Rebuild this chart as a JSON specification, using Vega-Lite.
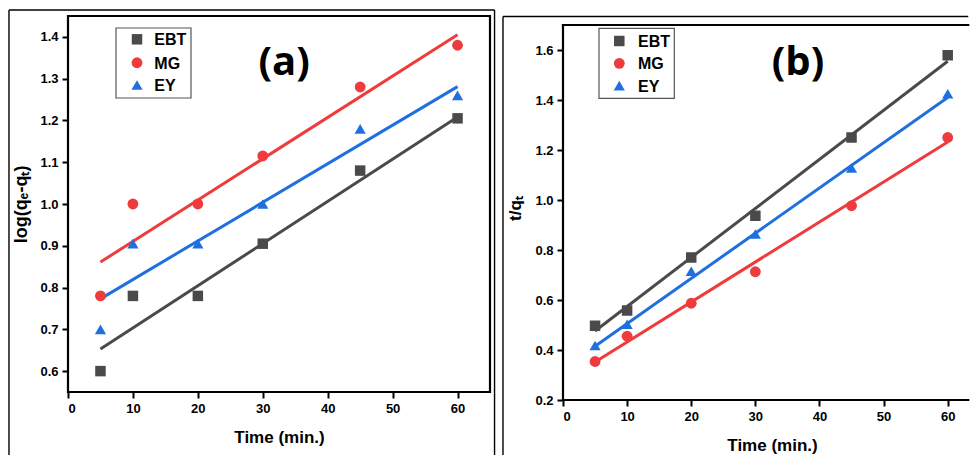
{
  "$schema": "https://vega.github.io/schema/vega-lite/v6.json",
  "background": "white",
  "padding": {"left": 8, "top": 9, "right": 0, "bottom": 0},
  "spacing": 73,
  "bounds": "flush",
  "datasets": {
    "a_pts": [
      {"series": "EBT", "t": 5, "v": 0.60}, {"series": "EBT", "t": 10, "v": 0.78}, {"series": "EBT", "t": 20, "v": 0.78},
      {"series": "EBT", "t": 30, "v": 0.905}, {"series": "EBT", "t": 45, "v": 1.08}, {"series": "EBT", "t": 60, "v": 1.205},
      {"series": "MG", "t": 5, "v": 0.78}, {"series": "MG", "t": 10, "v": 1.0}, {"series": "MG", "t": 20, "v": 1.0},
      {"series": "MG", "t": 30, "v": 1.115}, {"series": "MG", "t": 45, "v": 1.28}, {"series": "MG", "t": 60, "v": 1.38},
      {"series": "EY", "t": 5, "v": 0.70}, {"series": "EY", "t": 10, "v": 0.905}, {"series": "EY", "t": 20, "v": 0.905},
      {"series": "EY", "t": 30, "v": 1.0}, {"series": "EY", "t": 45, "v": 1.18}, {"series": "EY", "t": 60, "v": 1.26}
    ],
    "a_fit": [
      {"series": "EBT", "t": 5, "v": 0.653}, {"series": "EBT", "t": 60, "v": 1.208},
      {"series": "MG", "t": 5, "v": 0.861}, {"series": "MG", "t": 60, "v": 1.405},
      {"series": "EY", "t": 5, "v": 0.773}, {"series": "EY", "t": 60, "v": 1.281}
    ],
    "b_pts": [
      {"series": "EBT", "t": 5, "v": 0.497}, {"series": "EBT", "t": 10, "v": 0.558}, {"series": "EBT", "t": 20, "v": 0.77},
      {"series": "EBT", "t": 30, "v": 0.937}, {"series": "EBT", "t": 45, "v": 1.25}, {"series": "EBT", "t": 60, "v": 1.579},
      {"series": "MG", "t": 5, "v": 0.354}, {"series": "MG", "t": 10, "v": 0.455}, {"series": "MG", "t": 20, "v": 0.587},
      {"series": "MG", "t": 30, "v": 0.713}, {"series": "MG", "t": 45, "v": 0.977}, {"series": "MG", "t": 60, "v": 1.25},
      {"series": "EY", "t": 5, "v": 0.418}, {"series": "EY", "t": 10, "v": 0.503}, {"series": "EY", "t": 20, "v": 0.715},
      {"series": "EY", "t": 30, "v": 0.864}, {"series": "EY", "t": 45, "v": 1.128}, {"series": "EY", "t": 60, "v": 1.425}
    ],
    "b_fit": [
      {"series": "EBT", "t": 5, "v": 0.476}, {"series": "EBT", "t": 60, "v": 1.555},
      {"series": "MG", "t": 5, "v": 0.352}, {"series": "MG", "t": 60, "v": 1.232},
      {"series": "EY", "t": 5, "v": 0.415}, {"series": "EY", "t": 60, "v": 1.41}
    ],
    "items": [{"series": "EBT"}, {"series": "MG"}, {"series": "EY"}],
    "one": [{}]
  },
  "hconcat": [
    {
      "width": 422,
      "height": 376,
      "layer": [
        {
          "data": {"name": "one"},
          "mark": {"type": "rect", "fill": null, "stroke": "black", "strokeWidth": 2.2},
          "encoding": {
            "x": {"datum": 0, "type": "quantitative", "scale": {"domain": [0, 65], "nice": false, "zero": false}},
            "x2": {"datum": 65},
            "y": {"datum": 0.55, "type": "quantitative", "scale": {"domain": [0.55, 1.45], "nice": false, "zero": false}},
            "y2": {"datum": 1.45}
          }
        },
        {
          "data": {"name": "one"},
          "mark": {"type": "rule", "stroke": "black", "strokeWidth": 1.4},
          "encoding": {"x": {"datum": -9.09, "type": "quantitative"}, "y": {"datum": 0.3992, "type": "quantitative"}, "y2": {"datum": 1.4644}}
        },
        {
          "data": {"name": "one"},
          "mark": {"type": "rule", "stroke": "black", "strokeWidth": 1.4},
          "encoding": {"x": {"datum": 65.7, "type": "quantitative"}, "y": {"datum": 0.3992, "type": "quantitative"}, "y2": {"datum": 1.4644}}
        },
        {
          "data": {"name": "one"},
          "mark": {"type": "rule", "stroke": "black", "strokeWidth": 1.4},
          "encoding": {"y": {"datum": 1.4644, "type": "quantitative"}, "x": {"datum": -9.09, "type": "quantitative"}, "x2": {"datum": 65.7}}
        },
        {
          "data": {"name": "a_fit"},
          "mark": {"type": "line", "strokeWidth": 3},
          "encoding": {
            "x": {"field": "t", "type": "quantitative"},
            "y": {"field": "v", "type": "quantitative"},
            "detail": {"field": "series", "type": "nominal"},
            "stroke": {"field": "series", "type": "nominal", "scale": {"domain": ["EBT", "MG", "EY"], "range": ["#4a4a4a", "#ef3b3b", "#1f6fe0"]}, "legend": null}
          }
        },
        {
          "data": {"name": "a_pts"},
          "mark": {"type": "point", "filled": true, "opacity": 1},
          "encoding": {
            "x": {"field": "t", "type": "quantitative", "axis": {
              "title": "Time (min.)",
              "values": [0, 5, 10, 15, 20, 25, 30, 35, 40, 45, 50, 55, 60, 65],
              "labelExpr": "datum.value % 10 === 0 ? datum.label : ''",
              "tickSize": {"condition": {"test": "datum.value % 10 === 0", "value": 6}, "value": 3},
              "titlePadding": 14
            }},
            "y": {"field": "v", "type": "quantitative", "axis": {
              "title": "log(qₑ-qₜ)",
              "titleFontSize": 18,
              "values": [0.6, 0.65, 0.7, 0.75, 0.8, 0.85, 0.9, 0.95, 1.0, 1.05, 1.1, 1.15, 1.2, 1.25, 1.3, 1.35, 1.4],
              "labelExpr": "round(datum.value*100) % 10 === 0 ? format(datum.value, '.1f') : ''",
              "tickSize": {"condition": {"test": "round(datum.value*100) % 10 === 0", "value": 6}, "value": 3},
              "titlePadding": 9
            }},
            "color": {"field": "series", "type": "nominal", "scale": {"domain": ["EBT", "MG", "EY"], "range": ["#4a4a4a", "#ef3b3b", "#1f6fe0"]}, "legend": null},
            "shape": {"field": "series", "type": "nominal", "scale": {"domain": ["EBT", "MG", "EY"], "range": ["square", "circle", "triangle-up"]}, "legend": null},
            "size": {"field": "series", "type": "nominal", "scale": {"domain": ["EBT", "MG", "EY"], "range": [110, 125, 220]}, "legend": null}
          }
        },
        {
          "data": {"name": "one"},
          "mark": {"type": "rect", "fill": "white", "stroke": "#555", "strokeWidth": 1.2},
          "encoding": {"x": {"datum": 7.393, "type": "quantitative"}, "x2": {"datum": 18.945}, "y": {"datum": 1.4213, "type": "quantitative"}, "y2": {"datum": 1.2537}}
        },
        {
          "data": {"name": "items"},
          "transform": [{"filter": "datum.series === 'EBT'"}],
          "layer": [
            {"mark": {"type": "point", "filled": true, "opacity": 1},
             "encoding": {"x": {"datum": 10.628, "type": "quantitative"}, "y": {"datum": 1.3942, "type": "quantitative"}, "color": {"field": "series", "type": "nominal", "legend": null}, "shape": {"field": "series", "type": "nominal", "legend": null}, "size": {"field": "series", "type": "nominal", "legend": null}}},
            {"mark": {"type": "text", "align": "left", "baseline": "middle", "dy": 1, "font": "Liberation Sans", "fontWeight": "bold", "fontSize": 16, "color": "black"},
             "encoding": {"x": {"datum": 13.3, "type": "quantitative"}, "y": {"datum": 1.3942, "type": "quantitative"}, "text": {"field": "series"}}}
          ]
        },
        {
          "data": {"name": "items"},
          "transform": [{"filter": "datum.series === 'MG'"}],
          "layer": [
            {"mark": {"type": "point", "filled": true, "opacity": 1},
             "encoding": {"x": {"datum": 10.628, "type": "quantitative"}, "y": {"datum": 1.3382, "type": "quantitative"}, "color": {"field": "series", "type": "nominal", "legend": null}, "shape": {"field": "series", "type": "nominal", "legend": null}, "size": {"field": "series", "type": "nominal", "legend": null}}},
            {"mark": {"type": "text", "align": "left", "baseline": "middle", "dy": 1, "font": "Liberation Sans", "fontWeight": "bold", "fontSize": 16, "color": "black"},
             "encoding": {"x": {"datum": 13.3, "type": "quantitative"}, "y": {"datum": 1.3382, "type": "quantitative"}, "text": {"field": "series"}}}
          ]
        },
        {
          "data": {"name": "items"},
          "transform": [{"filter": "datum.series === 'EY'"}],
          "layer": [
            {"mark": {"type": "point", "filled": true, "opacity": 1},
             "encoding": {"x": {"datum": 10.628, "type": "quantitative"}, "y": {"datum": 1.2848, "type": "quantitative"}, "color": {"field": "series", "type": "nominal", "legend": null}, "shape": {"field": "series", "type": "nominal", "legend": null}, "size": {"field": "series", "type": "nominal", "legend": null}}},
            {"mark": {"type": "text", "align": "left", "baseline": "middle", "dy": 1, "font": "Liberation Sans", "fontWeight": "bold", "fontSize": 16, "color": "black"},
             "encoding": {"x": {"datum": 13.3, "type": "quantitative"}, "y": {"datum": 1.2848, "type": "quantitative"}, "text": {"field": "series"}}}
          ]
        },
        {
          "data": {"name": "one"},
          "mark": {"type": "text", "text": "(a)", "font": "Open Sans", "fontWeight": "bold", "fontSize": 40, "baseline": "middle", "align": "center", "color": "black"},
          "encoding": {"x": {"datum": 33.3, "type": "quantitative"}, "y": {"datum": 1.3375, "type": "quantitative"}}
        }
      ]
    },
    {
      "width": 406,
      "height": 384,
      "layer": [
        {
          "data": {"name": "one"},
          "mark": {"type": "rule", "stroke": "black", "strokeWidth": 2.2, "strokeCap": "square"},
          "encoding": {
            "x": {"datum": 0, "type": "quantitative", "scale": {"domain": [0, 63.32], "nice": false, "zero": false}},
            "y": {"datum": 0.2, "type": "quantitative", "scale": {"domain": [0.2, 1.736], "nice": false, "zero": false}},
            "y2": {"datum": 1.7}
          }
        },
        {
          "data": {"name": "one"},
          "mark": {"type": "rule", "stroke": "black", "strokeWidth": 2.2, "strokeCap": "square"},
          "encoding": {"y": {"datum": 1.7, "type": "quantitative"}, "x": {"datum": 0, "type": "quantitative"}, "x2": {"datum": 63.2}}
        },
        {
          "data": {"name": "one"},
          "mark": {"type": "rule", "stroke": "black", "strokeWidth": 2.2, "strokeCap": "square"},
          "encoding": {"y": {"datum": 0.2, "type": "quantitative"}, "x": {"datum": 0, "type": "quantitative"}, "x2": {"datum": 63.2}}
        },
        {
          "data": {"name": "one"},
          "mark": {"type": "rule", "stroke": "black", "strokeWidth": 1.4},
          "encoding": {"x": {"datum": -9.36, "type": "quantitative"}, "y": {"datum": -0.02, "type": "quantitative"}, "y2": {"datum": 1.734}}
        },
        {
          "data": {"name": "one"},
          "mark": {"type": "rule", "stroke": "black", "strokeWidth": 1.4},
          "encoding": {"y": {"datum": 1.734, "type": "quantitative"}, "x": {"datum": -9.36, "type": "quantitative"}, "x2": {"datum": 63.2}}
        },
        {
          "data": {"name": "b_fit"},
          "mark": {"type": "line", "strokeWidth": 3},
          "encoding": {
            "x": {"field": "t", "type": "quantitative"},
            "y": {"field": "v", "type": "quantitative"},
            "detail": {"field": "series", "type": "nominal"},
            "stroke": {"field": "series", "type": "nominal", "scale": {"domain": ["EBT", "MG", "EY"], "range": ["#4a4a4a", "#ef3b3b", "#1f6fe0"]}, "legend": null}
          }
        },
        {
          "data": {"name": "b_pts"},
          "mark": {"type": "point", "filled": true, "opacity": 1},
          "encoding": {
            "x": {"field": "t", "type": "quantitative", "axis": {
              "title": "Time (min.)",
              "values": [0, 5, 10, 15, 20, 25, 30, 35, 40, 45, 50, 55, 60],
              "labelExpr": "datum.value % 10 === 0 ? datum.label : ''",
              "tickSize": {"condition": {"test": "datum.value % 10 === 0", "value": 6}, "value": 3},
              "titlePadding": 14,
              "titleX": 209
            }},
            "y": {"field": "v", "type": "quantitative", "axis": {
              "title": "t/qₜ",
              "values": [0.2, 0.3, 0.4, 0.5, 0.6, 0.7, 0.8, 0.9, 1.0, 1.1, 1.2, 1.3, 1.4, 1.5, 1.6],
              "labelExpr": "round(datum.value*10) % 2 === 0 ? format(datum.value, '.1f') : ''",
              "tickSize": {"condition": {"test": "round(datum.value*10) % 2 === 0", "value": 6}, "value": 3},
              "titlePadding": 10
            }},
            "color": {"field": "series", "type": "nominal", "scale": {"domain": ["EBT", "MG", "EY"], "range": ["#4a4a4a", "#ef3b3b", "#1f6fe0"]}, "legend": null},
            "shape": {"field": "series", "type": "nominal", "scale": {"domain": ["EBT", "MG", "EY"], "range": ["square", "circle", "triangle-up"]}, "legend": null},
            "size": {"field": "series", "type": "nominal", "scale": {"domain": ["EBT", "MG", "EY"], "range": [110, 125, 220]}, "legend": null}
          }
        },
        {
          "data": {"name": "one"},
          "mark": {"type": "rect", "fill": "white", "stroke": "#555", "strokeWidth": 1.2},
          "encoding": {"x": {"datum": 5.614, "type": "quantitative"}, "x2": {"datum": 17.36}, "y": {"datum": 1.6868, "type": "quantitative"}, "y2": {"datum": 1.4068}}
        },
        {
          "data": {"name": "items"},
          "transform": [{"filter": "datum.series === 'EBT'"}],
          "layer": [
            {"mark": {"type": "point", "filled": true, "opacity": 1},
             "encoding": {"x": {"datum": 8.78, "type": "quantitative"}, "y": {"datum": 1.636, "type": "quantitative"}, "color": {"field": "series", "type": "nominal", "legend": null}, "shape": {"field": "series", "type": "nominal", "legend": null}, "size": {"field": "series", "type": "nominal", "legend": null}}},
            {"mark": {"type": "text", "align": "left", "baseline": "middle", "dy": 1, "font": "Liberation Sans", "fontWeight": "bold", "fontSize": 16, "color": "black"},
             "encoding": {"x": {"datum": 11.7, "type": "quantitative"}, "y": {"datum": 1.636, "type": "quantitative"}, "text": {"field": "series"}}}
          ]
        },
        {
          "data": {"name": "items"},
          "transform": [{"filter": "datum.series === 'MG'"}],
          "layer": [
            {"mark": {"type": "point", "filled": true, "opacity": 1},
             "encoding": {"x": {"datum": 8.78, "type": "quantitative"}, "y": {"datum": 1.5468, "type": "quantitative"}, "color": {"field": "series", "type": "nominal", "legend": null}, "shape": {"field": "series", "type": "nominal", "legend": null}, "size": {"field": "series", "type": "nominal", "legend": null}}},
            {"mark": {"type": "text", "align": "left", "baseline": "middle", "dy": 1, "font": "Liberation Sans", "fontWeight": "bold", "fontSize": 16, "color": "black"},
             "encoding": {"x": {"datum": 11.7, "type": "quantitative"}, "y": {"datum": 1.5468, "type": "quantitative"}, "text": {"field": "series"}}}
          ]
        },
        {
          "data": {"name": "items"},
          "transform": [{"filter": "datum.series === 'EY'"}],
          "layer": [
            {"mark": {"type": "point", "filled": true, "opacity": 1},
             "encoding": {"x": {"datum": 8.78, "type": "quantitative"}, "y": {"datum": 1.4572, "type": "quantitative"}, "color": {"field": "series", "type": "nominal", "legend": null}, "shape": {"field": "series", "type": "nominal", "legend": null}, "size": {"field": "series", "type": "nominal", "legend": null}}},
            {"mark": {"type": "text", "align": "left", "baseline": "middle", "dy": 1, "font": "Liberation Sans", "fontWeight": "bold", "fontSize": 16, "color": "black"},
             "encoding": {"x": {"datum": 11.7, "type": "quantitative"}, "y": {"datum": 1.4572, "type": "quantitative"}, "text": {"field": "series"}}}
          ]
        },
        {
          "data": {"name": "one"},
          "mark": {"type": "text", "text": "(b)", "font": "Open Sans", "fontWeight": "bold", "fontSize": 40, "baseline": "middle", "align": "center", "color": "black"},
          "encoding": {"x": {"datum": 36.65, "type": "quantitative"}, "y": {"datum": 1.548, "type": "quantitative"}}
        }
      ]
    }
  ],
  "resolve": {
    "scale": {"color": "independent", "shape": "independent", "stroke": "independent", "size": "independent", "x": "independent", "y": "independent"},
    "legend": {"color": "independent", "shape": "independent", "size": "independent"}
  },
  "config": {
    "view": {"stroke": null},
    "font": "Liberation Sans",
    "axis": {
      "domain": false,
      "grid": false,
      "labelFont": "Liberation Sans",
      "labelFontWeight": "bold",
      "labelFontSize": 13,
      "labelColor": "black",
      "labelPadding": 4,
      "titleFont": "Liberation Sans",
      "titleFontWeight": "bold",
      "titleFontSize": 17,
      "titleColor": "black",
      "tickColor": "black",
      "tickWidth": 2
    }
  }
}
